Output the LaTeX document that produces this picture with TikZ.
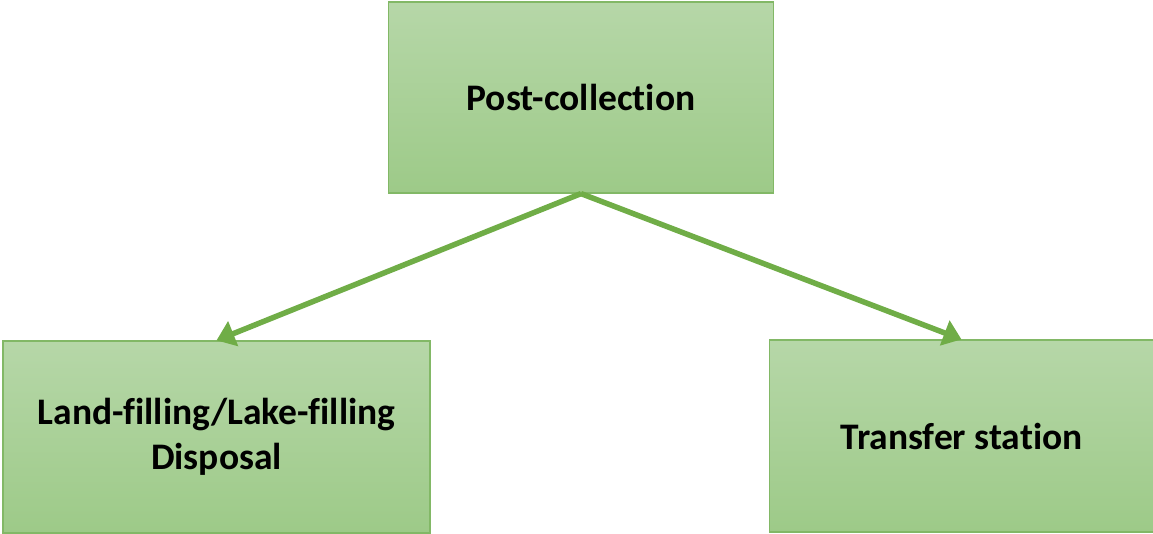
\documentclass[tikz,border=0pt]{standalone}
\usepackage{fontspec}
\setmainfont{Carlito}[Ligatures={NoCommon,NoContextual}]
\usetikzlibrary{arrows.meta}
\definecolor{boxtop}{HTML}{B6D7A8}
\definecolor{boxbottom}{HTML}{9DCA88}
\definecolor{boxline}{HTML}{82B866}
\definecolor{arrowgreen}{HTML}{70AD47}

\begin{document}
\begin{tikzpicture}[x=1pt,y=1pt,>={Triangle[length=18pt,width=26pt]},main node/.style={rectangle,draw=boxline,line width=1.2pt,top color=boxtop,bottom color=boxbottom,align=center,font=\fontsize{37.5}{45}\selectfont\bfseries},link/.style={->,draw=arrowgreen,fill=arrowgreen,line width=5.5pt}]
                        \useasboundingbox (0,0) rectangle (1153,-534);
                        \node[main node,minimum width=385pt,minimum height=191pt] (1) at (581,-97.5) {Post-collection};
                        \node[main node,minimum width=427pt,minimum height=192pt] (2) at (216.5,-437) {Land-filling/Lake-filling\\Disposal};
                        \node[main node,minimum width=384pt,minimum height=192pt] (3) at (961.5,-436) {Transfer station};

                        \path
                                (1.south) edge [link]  (2.north)
                                (1.south) edge [link]  (3.north)
                            ;
                    \end{tikzpicture}
\end{document}
